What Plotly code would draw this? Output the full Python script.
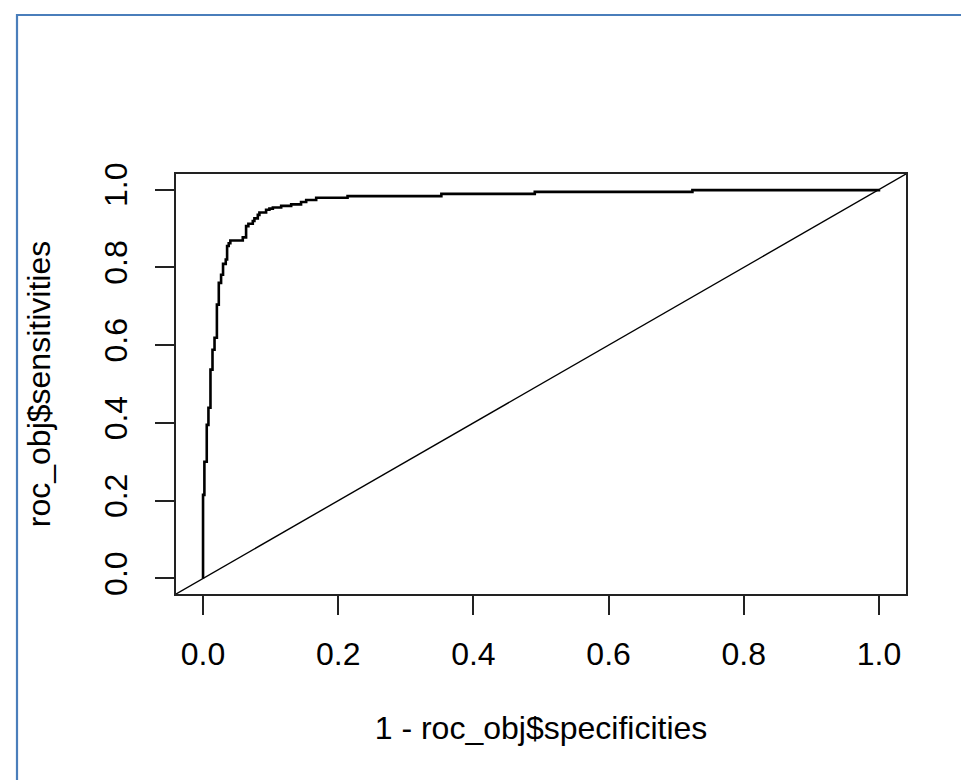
import plotly.graph_objects as go

# ROC curve corner points
fpr = [0.0, 0.0, 0.002, 0.0055, 0.008, 0.011, 0.014, 0.017, 0.0205, 0.0233, 0.0267,
       0.0296, 0.0336, 0.0356, 0.038, 0.0404, 0.0588, 0.0637, 0.0671, 0.0736, 0.076,
       0.081, 0.0834, 0.0933, 0.0982, 0.1033, 0.1156, 0.1304, 0.145, 0.1526, 0.1674,
       0.2138, 0.3526, 0.4908, 0.724, 1.0]
tpr = [0.0, 0.215, 0.30, 0.395, 0.439, 0.537, 0.588, 0.619, 0.704, 0.760, 0.781,
       0.809, 0.820, 0.855, 0.862, 0.869, 0.877, 0.906, 0.912, 0.919, 0.926,
       0.935, 0.941, 0.948, 0.951, 0.954, 0.958, 0.962, 0.968, 0.973, 0.979,
       0.983, 0.989, 0.994, 0.9985, 1.0]

tick_vals = [0.0, 0.2, 0.4, 0.6, 0.8, 1.0]
tick_text = ["0.0", "0.2", "0.4", "0.6", "0.8", "1.0"]
axis_range = [-0.04, 1.04]

x_title = "1 - roc_obj$specificities"
y_title = "roc_obj$sensitivities"

FONT = "Liberation Sans, Arial, sans-serif"
FS = 32

fig = go.Figure()
fig.add_trace(go.Scatter(x=fpr, y=tpr, mode="lines", line_shape="hv",
                         line=dict(color="black", width=2.6), hoverinfo="skip",
                         showlegend=False))

# abline(0, 1) across the whole plotting region
fig.add_shape(type="line", xref="x", yref="y",
              x0=axis_range[0], y0=axis_range[0], x1=axis_range[1], y1=axis_range[1],
              line=dict(color="black", width=1.4))

W, H = 969, 780
L, R, T, B = 168, 71, 166, 194
pw, ph = W - L - R, H - T - B

def px2paper_x(px):
    return (px - L) / pw

def px2paper_y(py):
    return (H - B - py) / ph

# blue frame of the screenshot (top and left edges)
frame_col = "#4a7ebb"
fig.add_shape(type="line", xref="paper", yref="paper",
              x0=px2paper_x(8), y0=px2paper_y(7), x1=px2paper_x(975), y1=px2paper_y(7),
              line=dict(color=frame_col, width=2.2))
fig.add_shape(type="line", xref="paper", yref="paper",
              x0=px2paper_x(9), y0=px2paper_y(6), x1=px2paper_x(9), y1=px2paper_y(790),
              line=dict(color=frame_col, width=2.2))

axis_common = dict(
    range=axis_range, showgrid=False, zeroline=False,
    showline=True, mirror=True, linecolor="#222", linewidth=2,
    ticks="outside", ticklen=19, tickwidth=1.8, tickcolor="#222",
    tickvals=tick_vals, ticktext=tick_text,
    tickfont=dict(family=FONT, size=FS, color="black"),
)

fig.update_xaxes(**axis_common, ticklabelstandoff=12,
                 title=dict(text=x_title, font=dict(family=FONT, size=FS, color="black"),
                            standoff=45))
fig.update_yaxes(**axis_common, tickangle=-90, ticklabelstandoff=15,
                 title=dict(text=y_title, font=dict(family=FONT, size=FS, color="black"),
                            standoff=38))

fig.update_layout(
    width=W, height=H,
    margin=dict(l=L, r=R, t=T, b=B, autoexpand=False),
    paper_bgcolor="white", plot_bgcolor="white",
    showlegend=False,
)

fig.write_html("out.html")
